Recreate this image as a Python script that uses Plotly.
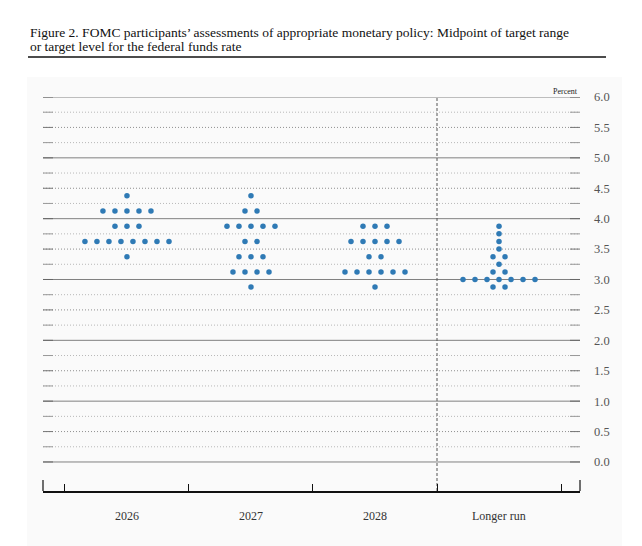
import plotly.graph_objects as go

# ---- data ----
categories = ["2026", "2027", "2028", "Longer run"]
rates_2026 = [4.375, 4.125, 3.875, 3.625, 3.375]
counts_2026 = [1, 5, 3, 8, 1]
rates_2027 = [4.375, 4.125, 3.875, 3.625, 3.375, 3.125, 2.875]
counts_2027 = [1, 2, 5, 2, 3, 4, 1]
rates_2028 = [3.875, 3.625, 3.375, 3.125, 2.875]
counts_2028 = [3, 5, 2, 6, 1]
rates_lr = [3.875, 3.75, 3.625, 3.5, 3.375, 3.25, 3.125, 3.0, 2.875]
counts_lr = [1, 1, 1, 1, 2, 1, 2, 7, 2]
y_ticks = [0.0, 0.5, 1.0, 1.5, 2.0, 2.5, 3.0, 3.5, 4.0, 4.5, 5.0, 5.5, 6.0]

groups = [(rates_2026, counts_2026), (rates_2027, counts_2027),
          (rates_2028, counts_2028), (rates_lr, counts_lr)]

# ---- layout geometry (pixels) ----
W, H = 642, 546
L, R, T, B = 43, 580, 97, 491
pw, ph = R - L, B - T
def px(x):
    return (x - L) / pw
def py(y):
    return (B - y) / ph

DOT_STEP = 0.0968
xs, ys = [], []
for gi, (rates, counts) in enumerate(groups):
    for r, n in zip(rates, counts):
        for i in range(n):
            xs.append(gi + (i - (n - 1) / 2) * DOT_STEP)
            ys.append(r)

fig = go.Figure()
fig.add_trace(go.Scatter(x=xs, y=ys, mode="markers",
                         marker=dict(color="#2f7ab5", size=5.5, line=dict(width=0)),
                         hoverinfo="y", showlegend=False))

serif = "Liberation Serif, DejaVu Serif, serif"
shapes = []
# panel background
shapes.append(dict(type="rect", xref="paper", yref="paper", x0=px(27), x1=px(622),
                   y0=py(546), y1=py(77), fillcolor="#fafafa", line=dict(width=0), layer="below"))
# title rule
shapes.append(dict(type="line", xref="paper", yref="paper", x0=px(28), x1=px(606),
                   y0=py(57), y1=py(57), line=dict(color="#111", width=1.6)))
# horizontal gridlines
v = 0.0
while v <= 6.0001:
    if abs(v - round(v)) < 1e-9:
        col, dash, ecol = "#808080", "solid", "#666"
    elif abs(v * 2 - round(v * 2)) < 1e-9:
        col, dash, ecol = "#8f8f8f", "1px,2px", "#777"
    else:
        col, dash, ecol = "#b8b8b8", "1px,2px", "#999"
    shapes.append(dict(type="line", xref="paper", yref="y", x0=0, x1=1, y0=v, y1=v,
                       line=dict(color=col, width=1, dash=dash), layer="below"))
    shapes.append(dict(type="line", xref="paper", yref="y", x0=0, x1=10 / pw, y0=v, y1=v,
                       line=dict(color=ecol, width=1), layer="below"))
    shapes.append(dict(type="line", xref="paper", yref="y", x0=1 - 10 / pw, x1=1, y0=v, y1=v,
                       line=dict(color=ecol, width=1), layer="below"))
    v += 0.25
# vertical dashed separator
shapes.append(dict(type="line", xref="x", yref="paper", x0=2.5, x1=2.5, y0=0, y1=1,
                   line=dict(color="#555", width=1, dash="3px,2px"), layer="below"))
# end ticks on x axis
for xe in (0, 1):
    shapes.append(dict(type="line", xref="paper", yref="paper", x0=xe, x1=xe, y0=0, y1=11 / ph,
                       line=dict(color="#111", width=1.2)))

annotations = [
    dict(text="Figure 2. FOMC participants\u2019 assessments of appropriate monetary policy: Midpoint of target range",
         xref="paper", yref="paper", x=px(28), y=py(33), xanchor="left", yanchor="middle",
         showarrow=False, font=dict(family=serif, size=13.5, color="#111")),
    dict(text="or target level for the federal funds rate",
         xref="paper", yref="paper", x=px(28), y=py(47), xanchor="left", yanchor="middle",
         showarrow=False, font=dict(family=serif, size=13.5, color="#111")),
    dict(text="Percent", xref="paper", yref="paper", x=px(580), y=py(92), xanchor="right",
         yanchor="middle", showarrow=False, font=dict(family=serif, size=8, color="#222")),
]
for i, c in enumerate(categories):
    annotations.append(dict(text=c, xref="x", yref="paper", x=i, y=py(516), xanchor="center",
                            yanchor="middle", showarrow=False,
                            font=dict(family=serif, size=12, color="#333")))

fig.update_layout(
    width=W, height=H,
    margin=dict(l=L, r=W - R, t=T, b=H - B, pad=0),
    paper_bgcolor="white", plot_bgcolor="rgba(0,0,0,0)",
    shapes=shapes, annotations=annotations,
    xaxis=dict(range=[-0.677, 3.653], tickvals=[-0.5, 0.5, 1.5, 2.5, 3.5], ticktext=[""] * 5,
               ticks="inside", ticklen=7, tickcolor="#111", tickwidth=1,
               showline=True, linecolor="#111", linewidth=1.6,
               showgrid=False, zeroline=False, fixedrange=True),
    yaxis=dict(range=[-0.477, 6.0], side="right", tickvals=y_ticks,
               ticktext=[f"{t:.1f}" for t in y_ticks], ticks="", ticklabelstandoff=13,
               tickfont=dict(family=serif, size=12.5, color="#555"),
               showline=False, showgrid=False, zeroline=False, fixedrange=True),
    showlegend=False,
)

fig.write_html("out.html")
